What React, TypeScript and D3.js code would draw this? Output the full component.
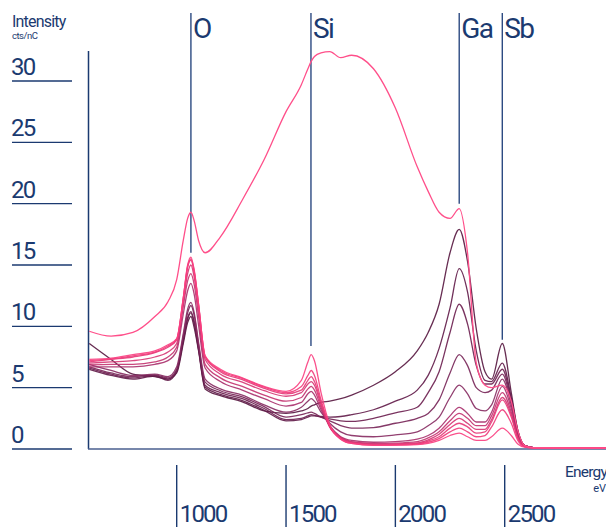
import React from "react";
import * as d3 from "d3";

// energy grid (eV) shared by every spectrum
const energy = [600, 700, 800, 900, 960, 1000, 1030, 1050, 1065, 1080, 1100, 1130, 1200, 1300, 1400, 1500, 1570, 1600, 1615, 1630, 1660, 1700, 1750, 1800, 1900, 2000, 2100, 2150, 2200, 2250, 2292, 2330, 2370, 2410, 2440, 2489, 2530, 2560, 2590, 2630, 2750, 2970];

// spectra, darkest (Ga/Sb rich) to pinkest (Si rich)
const spectrum0 = [8.6, 7.3, 6.1, 5.9, 5.7, 6.2, 8.6, 10.3, 10.8, 9.9, 8.0, 4.9, 4.35, 3.85, 3.1, 2.9, 3.1, 3.3, 3.5, 3.6, 3.8, 3.9, 4.1, 4.4, 5.2, 6.3, 8.0, 9.5, 11.8, 16.0, 17.9, 15.3, 9.8, 6.3, 5.7, 8.6, 4.6, 1.5, 0.3, 0.12, 0.08, 0.08];
const spectrum1 = [6.5, 6.0, 5.7, 5.95, 5.6, 6.3, 8.8, 10.6, 11.1, 10.2, 8.1, 5.05, 4.45, 3.95, 3.15, 2.3, 2.4, 2.6, 2.7, 2.7, 2.65, 2.6, 2.65, 2.8, 3.2, 3.9, 4.8, 6.0, 8.2, 11.5, 14.7, 12.8, 8.0, 5.6, 5.5, 7.0, 4.2, 1.5, 0.3, 0.12, 0.08, 0.08];
const spectrum2 = [6.6, 6.1, 5.8, 6.0, 5.7, 6.4, 8.9, 10.7, 11.2, 10.4, 8.2, 5.2, 4.6, 4.1, 3.3, 2.4, 2.5, 2.7, 2.8, 2.75, 2.6, 2.45, 2.3, 2.25, 2.5, 2.95, 3.4, 4.6, 6.3, 9.5, 11.8, 10.2, 6.8, 5.3, 5.3, 6.5, 4.0, 1.4, 0.3, 0.12, 0.08, 0.08];
const spectrum3 = [6.7, 6.2, 5.9, 6.05, 5.8, 6.5, 9.2, 11.1, 11.7, 10.9, 8.5, 5.45, 4.75, 4.25, 3.45, 2.6, 2.8, 2.95, 3.0, 2.9, 2.6, 2.3, 1.9, 1.7, 1.75, 2.1, 2.5, 2.9, 4.0, 6.2, 7.7, 6.8, 5.0, 4.6, 4.8, 6.1, 3.8, 1.3, 0.3, 0.12, 0.08, 0.08];
const spectrum4 = [6.9, 6.4, 6.0, 6.1, 5.9, 6.7, 9.4, 11.4, 11.95, 11.1, 8.7, 5.7, 4.9, 4.4, 3.6, 3.0, 3.4, 3.9, 4.1, 3.9, 3.0, 2.1, 1.4, 1.1, 1.0, 1.15, 1.4, 1.9, 2.6, 4.2, 5.2, 4.5, 3.3, 3.1, 3.6, 5.7, 3.6, 1.2, 0.3, 0.12, 0.08, 0.08];
const spectrum5 = [6.7, 6.7, 6.7, 6.9, 7.2, 8.0, 11.0, 12.9, 13.5, 12.6, 10.1, 6.6, 5.5, 4.8, 4.1, 3.5, 3.8, 4.5, 4.7, 4.4, 3.2, 1.9, 1.0, 0.7, 0.55, 0.6, 0.8, 1.1, 1.7, 2.7, 3.4, 2.9, 2.2, 2.2, 3.0, 5.1, 3.3, 1.1, 0.3, 0.12, 0.08, 0.08];
const spectrum6 = [6.85, 6.9, 6.9, 7.1, 7.5, 8.3, 11.6, 13.7, 14.3, 13.4, 10.8, 6.9, 5.8, 5.1, 4.4, 3.9, 4.2, 4.9, 5.1, 4.8, 3.4, 1.8, 0.95, 0.6, 0.45, 0.48, 0.6, 0.9, 1.4, 2.3, 2.9, 2.5, 1.9, 1.9, 2.7, 4.6, 3.0, 1.0, 0.25, 0.1, 0.08, 0.08];
const spectrum7 = [7.0, 7.1, 7.2, 7.5, 7.9, 8.6, 12.0, 14.3, 15.0, 14.0, 11.4, 7.3, 6.1, 5.45, 4.75, 4.3, 4.6, 5.3, 5.5, 5.2, 3.6, 1.8, 0.9, 0.55, 0.4, 0.42, 0.5, 0.75, 1.2, 2.0, 2.5, 2.1, 1.6, 1.6, 2.4, 4.2, 2.8, 0.9, 0.25, 0.1, 0.08, 0.08];
const spectrum8 = [7.1, 7.3, 7.5, 7.85, 8.3, 8.9, 12.2, 14.8, 15.4, 14.4, 11.7, 7.5, 6.3, 5.65, 4.95, 4.5, 4.8, 5.6, 5.9, 5.5, 3.8, 1.8, 0.85, 0.5, 0.35, 0.38, 0.45, 0.65, 1.0, 1.7, 2.1, 1.8, 1.3, 1.4, 2.2, 4.0, 2.6, 0.9, 0.2, 0.1, 0.08, 0.08];
const spectrum9 = [7.2, 7.35, 7.6, 7.9, 8.4, 8.95, 12.3, 14.9, 15.5, 14.5, 11.8, 7.55, 6.4, 5.75, 5.05, 4.6, 5.1, 6.0, 6.4, 6.0, 4.0, 1.9, 0.8, 0.45, 0.32, 0.35, 0.4, 0.55, 0.85, 1.4, 1.7, 1.4, 1.0, 1.1, 1.8, 3.2, 2.1, 0.7, 0.2, 0.1, 0.08, 0.08];
const spectrum10 = [7.3, 7.4, 7.7, 8.0, 8.5, 9.0, 12.3, 15.0, 15.65, 14.6, 11.8, 7.6, 6.5, 5.8, 5.1, 4.7, 5.6, 7.1, 7.7, 7.2, 4.6, 2.0, 0.8, 0.45, 0.3, 0.3, 0.35, 0.45, 0.7, 1.1, 1.3, 1.0, 0.7, 0.7, 1.0, 1.7, 1.1, 0.4, 0.15, 0.08, 0.06, 0.06];
// thick reference layer, broad hump
const bulkSpectrum = [9.6, 9.2, 9.5, 10.8, 12.0, 13.8, 17.0, 18.8, 19.3, 18.6, 17.0, 16.0, 17.3, 20.3, 23.6, 27.5, 29.7, 31.0, 31.6, 32.0, 32.3, 32.4, 31.9, 32.1, 31.0, 27.8, 23.0, 21.0, 19.3, 18.8, 19.6, 16.0, 7.0, 5.2, 5.0, 5.2, 3.9, 1.5, 0.3, 0.1, 0.08, 0.08];

const spectra = [spectrum0, spectrum1, spectrum2, spectrum3, spectrum4, spectrum5, spectrum6, spectrum7, spectrum8, spectrum9, spectrum10];
const spectrumColors = ["#57163f", "#611a48", "#6b1e4f", "#772357", "#862a60", "#a92f6b", "#c3326f", "#d63573", "#e53777", "#f03a7a", "#fa3e80"];

const elementNames = ["O", "Si", "Ga", "Sb"];
const elementEnergies = [1065, 1614, 2292, 2489];
const elementLineEnds = [16.0, 8.4, 20.0, 8.9];

const yTicks = [0, 5, 10, 15, 20, 25, 30];
const xTicks = [1000, 1500, 2000, 2500];

const W = 606;
const H = 527;
const navy = "#1b3a70";
const font = "Roboto, 'Liberation Sans', sans-serif";

const x = d3.scaleLinear().domain([1000, 2500]).range([176.7, 504.7]);
const y = d3.scaleLinear().domain([0, 30]).range([449, 81]);

const line = d3
  .line<number>()
  .x((_, i) => x(energy[i]))
  .y((d) => y(d))
  .curve(d3.curveMonotoneX);

const App = () => {
  return (
    <svg
      width={W}
      height={H}
      style={{ position: "absolute", left: 0, top: 0, background: "#fff" }}
      fontFamily={font}
    >
      <text x={12} y={27} fontSize={16} fill={navy} letterSpacing={-0.8}>
        Intensity
      </text>
      <text x={12} y={39} fontSize={9.5} fill={navy} letterSpacing={-0.5}>
        cts/nC
      </text>

      {yTicks.map((t) => (
        <g key={t}>
          <line x1={12} x2={72} y1={y(t)} y2={y(t)} stroke={navy} strokeWidth={1.4} />
          <text x={11} y={y(t) - 6} fontSize={24} fill={navy} letterSpacing={-1.8}>
            {t}
          </text>
        </g>
      ))}

      <line x1={88.5} x2={88.5} y1={51} y2={449} stroke={navy} strokeWidth={1.5} />
      <line x1={88} x2={W} y1={449} y2={449} stroke="#4a5f8f" strokeWidth={1.5} />

      {xTicks.map((t) => (
        <g key={t}>
          <line x1={x(t)} x2={x(t)} y1={465} y2={H} stroke={navy} strokeWidth={1.4} />
          <text x={x(t) + 3} y={522} fontSize={24} fill={navy} letterSpacing={-1.8}>
            {t}
          </text>
        </g>
      ))}
      <text x={565} y={477} fontSize={15.5} fill={navy} letterSpacing={-0.8}>
        Energy
      </text>
      <text x={606} y={492} fontSize={11} fill={navy} textAnchor="end">
        eV
      </text>

      {elementNames.map((n, i) => (
        <g key={n}>
          <line
            x1={x(elementEnergies[i])}
            x2={x(elementEnergies[i])}
            y1={13}
            y2={y(elementLineEnds[i])}
            stroke="#2c4a82"
            strokeWidth={1.4}
          />
          <text x={x(elementEnergies[i]) + 2} y={38} fontSize={28} fill={navy} letterSpacing={-1.6}>
            {n}
          </text>
        </g>
      ))}

      {spectra.map((s, i) => (
        <path key={i} d={line(s) || ""} fill="none" stroke={spectrumColors[i]} strokeWidth={1.3} strokeOpacity={0.9} />
      ))}
      <path d={line(bulkSpectrum) || ""} fill="none" stroke="#ff4f8a" strokeWidth={1.3} />
    </svg>
  );
};

export default App;
